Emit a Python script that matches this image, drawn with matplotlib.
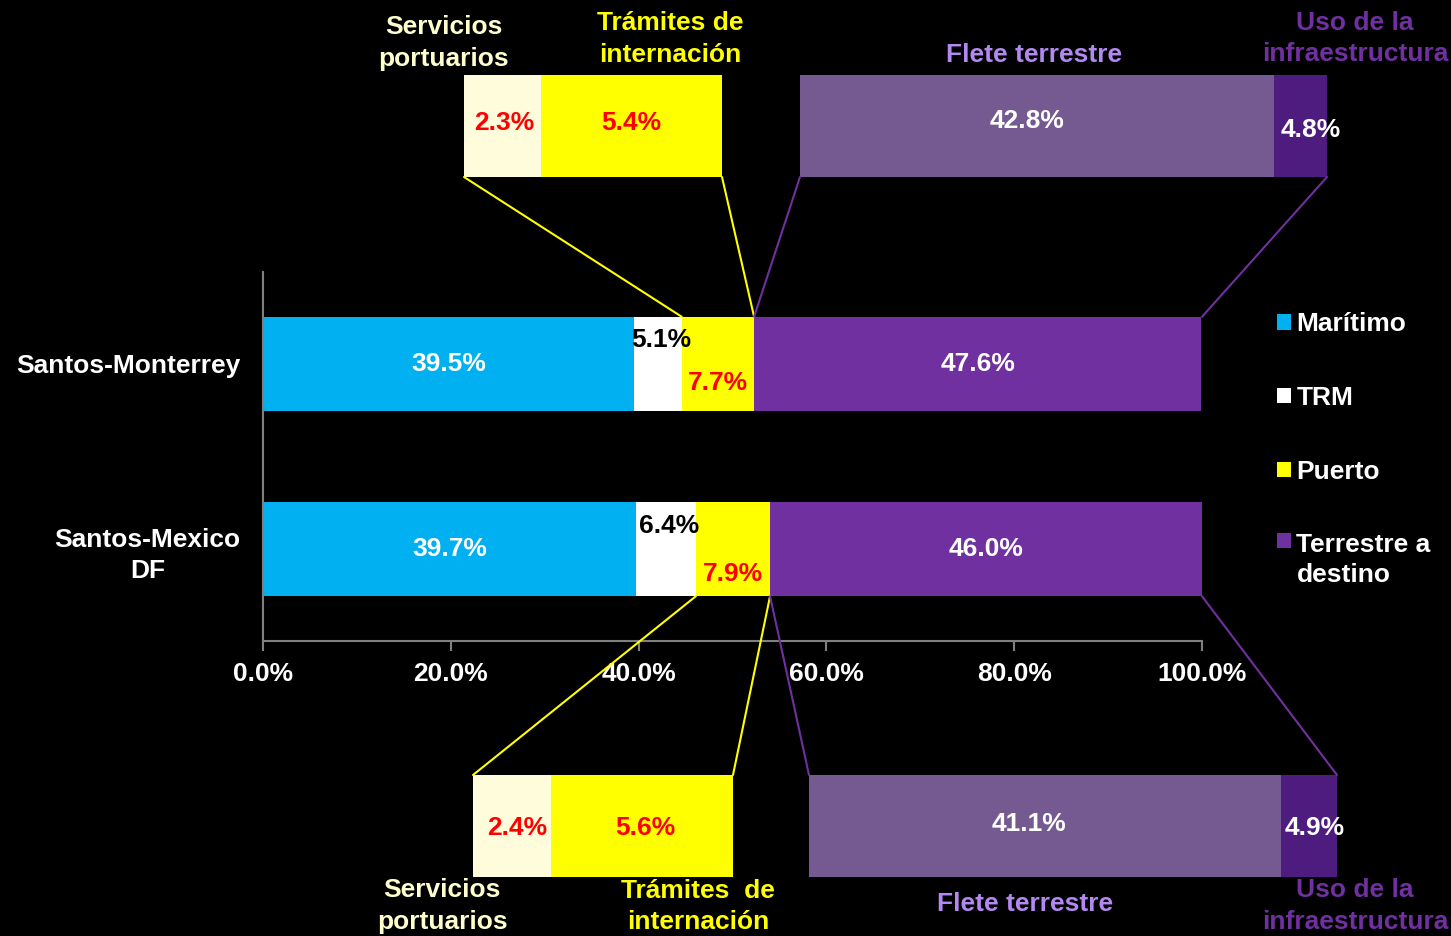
import numpy as np
import matplotlib
matplotlib.use("Agg")
import matplotlib.pyplot as plt
from matplotlib.patches import ConnectionPatch
from matplotlib.ticker import FuncFormatter

plt.rcParams['font.family'] = ['Liberation Sans', 'DejaVu Sans']
plt.rcParams['font.weight'] = 'bold'

#---------- Data ----------#

routes = ['Santos-Mexico\nDF', 'Santos-Monterrey']
series = ['Marítimo', 'TRM', 'Puerto', 'Terrestre a\ndestino']
maritimo = [39.7, 39.5]
trm = [6.4, 5.1]
puerto = [7.9, 7.7]
terrestre = [46.0, 47.6]

# desglose de Puerto y Terrestre (arriba: Monterrey, abajo: Mexico DF)
puerto_parts_mty = [2.3, 5.4]
puerto_parts_df = [2.4, 5.6]
terr_parts_mty = [42.8, 4.8]
terr_parts_df = [41.1, 4.9]
puerto_names = ['Servicios\nportuarios', 'Trámites de\ninternación']
puerto_names_df = ['Servicios\nportuarios', 'Trámites  de\ninternación']
terr_names = ['Flete terrestre', 'Uso de la\ninfraestructura']

c_mar = '#00B0F0'
c_trm = '#FFFFFF'
c_pue = '#FFFF00'
c_ter = '#7030A0'
c_serv = '#FFFCDC'
c_flete = '#755A91'
c_uso = '#4D1C7E'
FS = 19
LS = 1.4

W, H = 1451, 936
fig = plt.figure(figsize=(W / 100, H / 100), dpi=100, facecolor='black')

#---------- Main chart ----------#

ax = fig.add_axes([263 / W, 1 - 641 / H, 939 / W, 369 / H], facecolor='black')
y = np.arange(len(routes))
bh = 0.51
cols = [maritimo, trm, puerto, terrestre]
colors = [c_mar, c_trm, c_pue, c_ter]
left = np.zeros(len(routes))
lefts = []
for vals, col, name in zip(cols, colors, series):
    ax.barh(y, vals, height=bh, left=left, color=col, label=name, edgecolor='none')
    lefts.append(left.copy())
    left = left + np.array(vals)

trm_dy = [0.124, 0.13]
pue_dy = [-0.135, -0.103]
for i in range(len(routes)):
    ax.text(lefts[0][i] + maritimo[i] / 2, y[i], f'{maritimo[i]:.1f}%', ha='center', va='center',
            color='white', fontsize=FS)
    ax.text(lefts[1][i] + trm[i] / 2 + 0.4, y[i] + trm_dy[i], f'{trm[i]:.1f}%', ha='center', va='center',
            color='black', fontsize=FS)
    ax.text(lefts[2][i] + puerto[i] / 2, y[i] + pue_dy[i], f'{puerto[i]:.1f}%', ha='center', va='center',
            color='red', fontsize=FS)
    ax.text(lefts[3][i] + terrestre[i] / 2, y[i], f'{terrestre[i]:.1f}%', ha='center', va='center',
            color='white', fontsize=FS)

ax.set_xlim(0, 100)
ax.set_ylim(-0.497, 1.497)
ax.set_xticks(np.arange(0, 101, 20))
ax.xaxis.set_major_formatter(FuncFormatter(lambda v, p: f'{v:.1f}%'))
ax.set_yticks(y)
ax.set_yticklabels(routes, multialignment='center', linespacing=1.37)
ax.tick_params(axis='x', colors='#808080', length=7, width=1.5, labelcolor='white', labelsize=FS, pad=8)
ax.tick_params(axis='y', length=0, labelcolor='white', labelsize=FS, pad=16)
for s in ['top', 'right']:
    ax.spines[s].set_visible(False)
for s in ['left', 'bottom']:
    ax.spines[s].set_color('#808080')
    ax.spines[s].set_linewidth(1.5)

leg = ax.legend(loc='upper left', bbox_to_anchor=(1.055, 0.955), frameon=False, fontsize=FS,
                handlelength=0.5, handleheight=0.5, handletextpad=0.22, labelspacing=1.88,
                labelcolor='white')
leg.get_texts()[-1].set_linespacing(1.3)
# cuadro alineado con la primera línea en la etiqueta de dos líneas
leg._legend_handle_box.get_children()[0].get_children()[-1].align = 'top'

#---------- Insets ----------#

def inset(rect, parts, colors_in):
    a = fig.add_axes(rect, facecolor='black')
    lf = 0
    for v, c in zip(parts, colors_in):
        a.barh(0, v, height=1, left=lf, color=c, edgecolor='none')
        lf += v
    a.set_xlim(0, sum(parts))
    a.set_ylim(-0.5, 0.5)
    a.axis('off')
    return a

def conn(a, xa, ya, xb, yb, col):
    cp = ConnectionPatch(xyA=(xa, ya), coordsA=a.transData, xyB=(xb, yb), coordsB=ax.transData,
                         color=col, lw=1.5)
    fig.add_artist(cp)

ymty = y[1]
ydf = y[0]

# arriba izquierda: puerto Monterrey
a1 = inset([464 / W, 1 - 177 / H, 258 / W, 102 / H], puerto_parts_mty, [c_serv, c_pue])
a1.text(puerto_parts_mty[0] / 2 + 0.05, 0.03, f'{puerto_parts_mty[0]:.1f}%', ha='center', va='center', color='red', fontsize=FS)
a1.text(puerto_parts_mty[0] + puerto_parts_mty[1] / 2, 0.03, f'{puerto_parts_mty[1]:.1f}%', ha='center', va='center', color='red', fontsize=FS)
a1.text(-0.078, 1.314, puerto_names[0], transform=a1.transAxes, ha='center', va='center', color='#FFFFCC', fontsize=FS, linespacing=LS)
a1.text(0.798, 1.353, puerto_names[1], transform=a1.transAxes, ha='center', va='center', color=c_pue, fontsize=FS, linespacing=LS)
conn(a1, 0, -0.5, lefts[2][1], ymty + bh / 2, c_pue)
conn(a1, sum(puerto_parts_mty), -0.5, lefts[3][1], ymty + bh / 2, c_pue)

# arriba derecha: terrestre Monterrey
a2 = inset([800 / W, 1 - 177 / H, 527 / W, 102 / H], terr_parts_mty, [c_flete, c_uso])
a2.text(terr_parts_mty[0] / 2 - 0.9, 0.05, f'{terr_parts_mty[0]:.1f}%', ha='center', va='center', color='white', fontsize=FS)
a2.text(terr_parts_mty[0] + 0.6, -0.04, f'{terr_parts_mty[1]:.1f}%', ha='left', va='center', color='white', fontsize=FS)
a2.text(0.444, 1.196, terr_names[0], transform=a2.transAxes, ha='center', va='center', color='#B388F0', fontsize=FS)
a2.text(1.053, 1.358, terr_names[1], transform=a2.transAxes, ha='center', va='center', color=c_ter, fontsize=FS, linespacing=LS)
conn(a2, 0, -0.5, lefts[3][1], ymty + bh / 2, c_ter)
conn(a2, sum(terr_parts_mty), -0.5, 100, ymty + bh / 2, c_ter)

# abajo izquierda: puerto Mexico DF
a3 = inset([473 / W, 1 - 877 / H, 260 / W, 102 / H], puerto_parts_df, [c_serv, c_pue])
a3.text(puerto_parts_df[0] / 2 + 0.15, -0.02, f'{puerto_parts_df[0]:.1f}%', ha='center', va='center', color='red', fontsize=FS)
a3.text(puerto_parts_df[0] + puerto_parts_df[1] / 2 + 0.1, -0.02, f'{puerto_parts_df[1]:.1f}%', ha='center', va='center', color='red', fontsize=FS)
a3.text(-0.119, -0.284, puerto_names_df[0], transform=a3.transAxes, ha='center', va='center', color='#FFFFCC', fontsize=FS, linespacing=LS)
a3.text(0.865, -0.29, puerto_names_df[1], transform=a3.transAxes, ha='center', va='center', color=c_pue, fontsize=FS, linespacing=LS)
conn(a3, 0, 0.5, lefts[2][0], ydf - bh / 2, c_pue)
conn(a3, sum(puerto_parts_df), 0.5, lefts[3][0], ydf - bh / 2, c_pue)

# abajo derecha: terrestre Mexico DF
a4 = inset([809 / W, 1 - 877 / H, 528 / W, 102 / H], terr_parts_df, [c_flete, c_uso])
a4.text(terr_parts_df[0] / 2 - 1.35, 0.02, f'{terr_parts_df[0]:.1f}%', ha='center', va='center', color='white', fontsize=FS)
a4.text(terr_parts_df[0] + 0.3, -0.02, f'{terr_parts_df[1]:.1f}%', ha='left', va='center', color='white', fontsize=FS)
a4.text(0.409, -0.265, terr_names[0], transform=a4.transAxes, ha='center', va='center', color='#B388F0', fontsize=FS)
a4.text(1.034, -0.284, terr_names[1], transform=a4.transAxes, ha='center', va='center', color=c_ter, fontsize=FS, linespacing=LS)
conn(a4, 0, 0.5, lefts[3][0], ydf - bh / 2, c_ter)
conn(a4, sum(terr_parts_df), 0.5, 100, ydf - bh / 2, c_ter)

plt.savefig('out.png', dpi=100, facecolor='black')
